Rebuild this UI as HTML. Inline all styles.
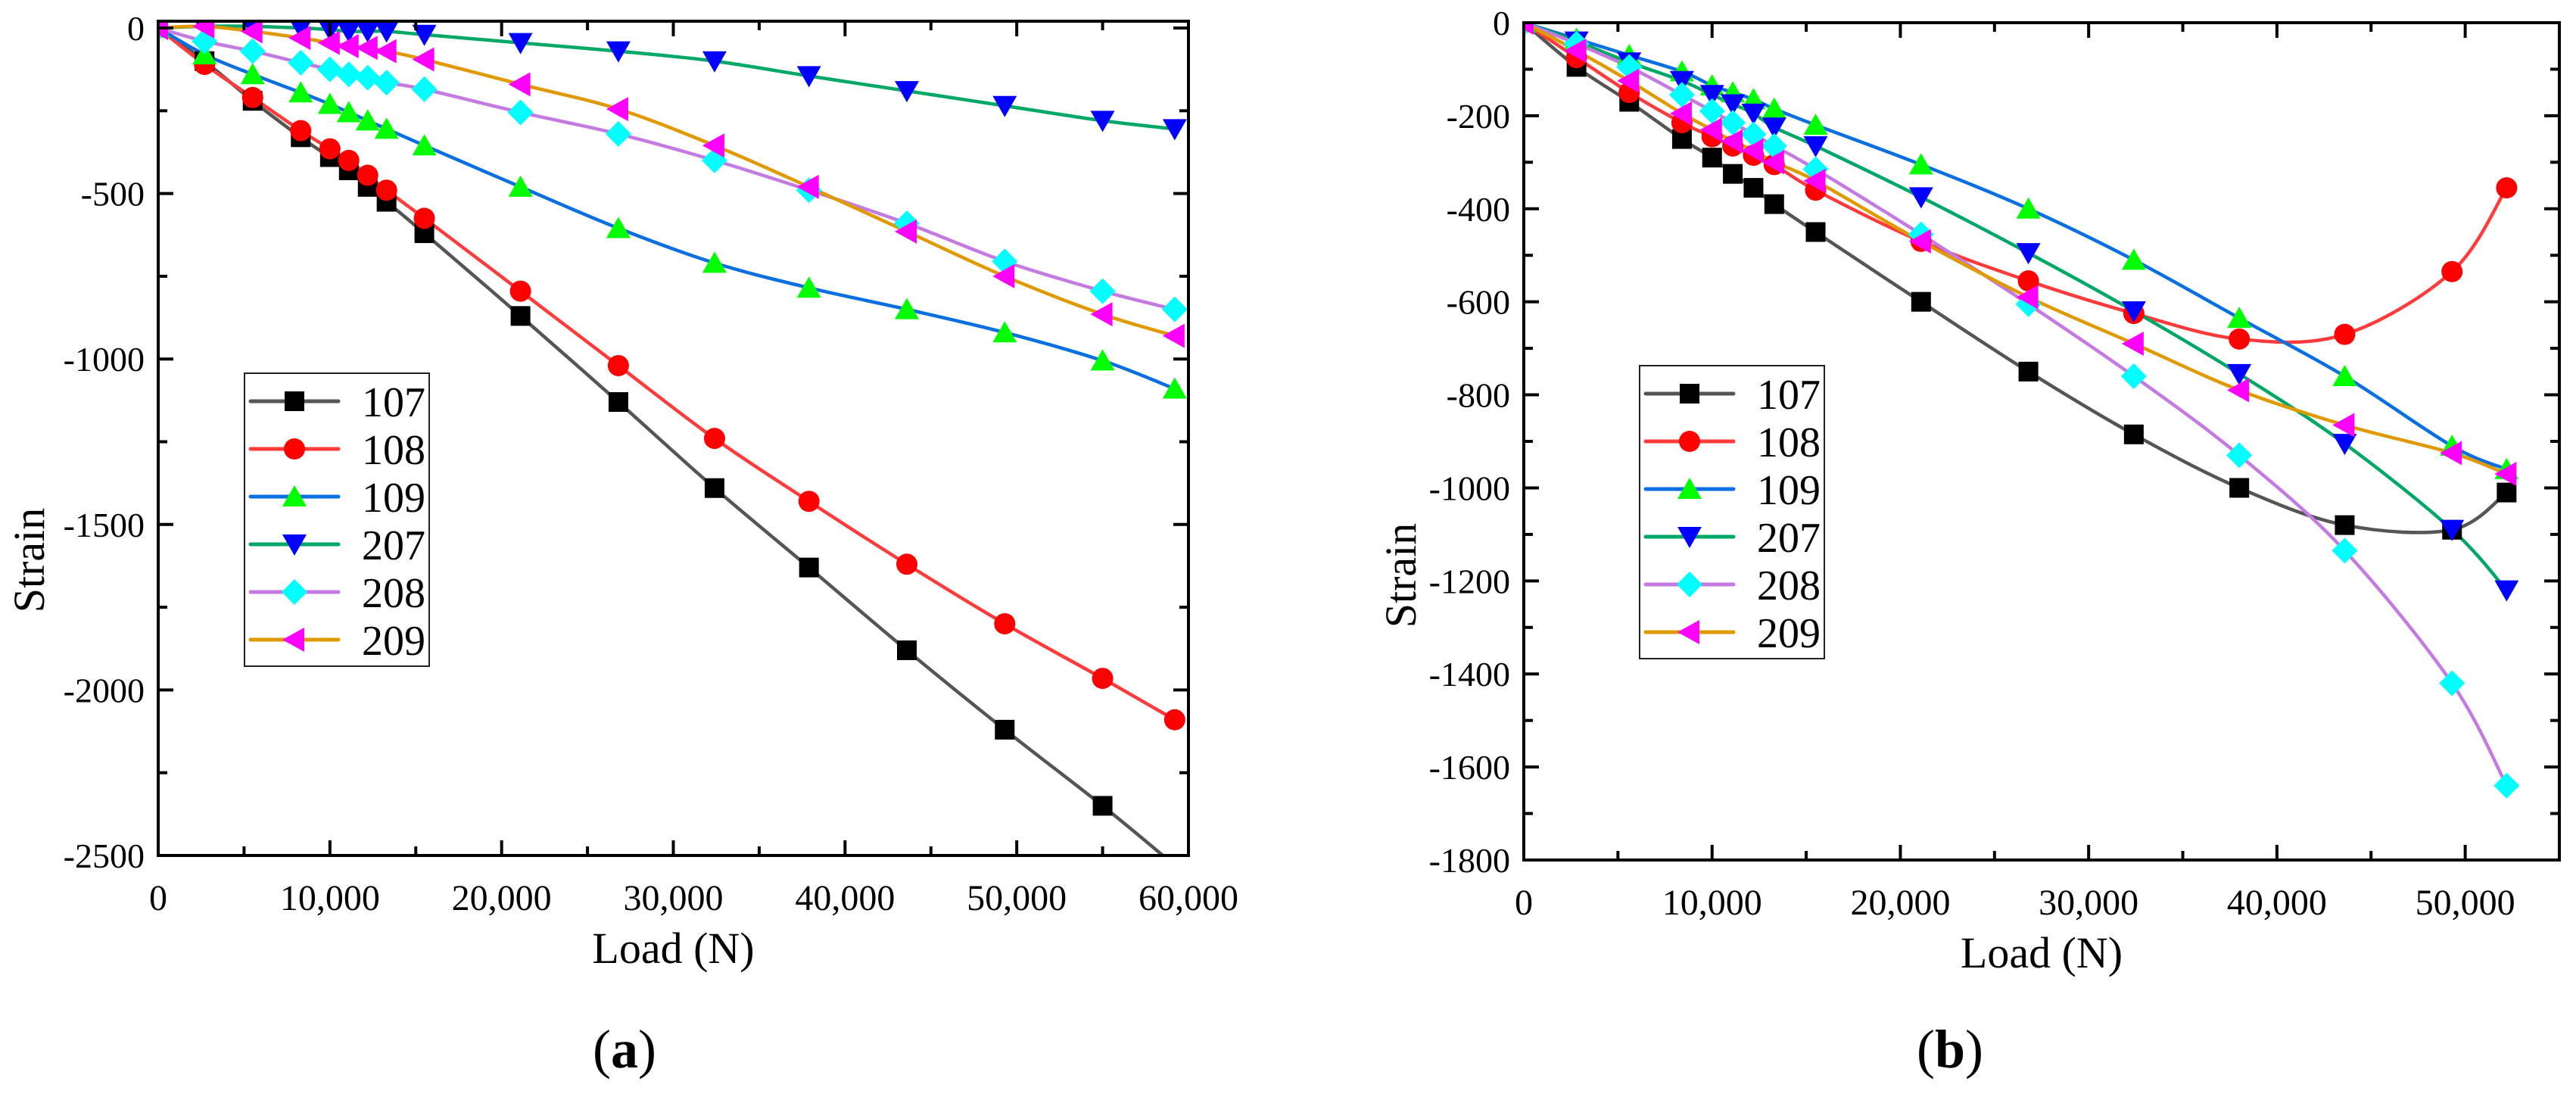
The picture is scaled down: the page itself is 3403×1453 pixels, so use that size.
<!DOCTYPE html>
<html><head><meta charset="utf-8"><style>
body{margin:0;background:#fff;}
svg{display:block;font-family:"Liberation Serif",serif;}
text{font-family:"Liberation Serif",serif;}
</style></head><body>
<svg id="fig" width="3403" height="1453" viewBox="0 0 3403 1453" xmlns="http://www.w3.org/2000/svg" font-family="Liberation Serif, serif"></svg>
<script>
const loadsA = [0,2700,5500,8300,10000,11100,12200,13300,15500,21100,26800,32400,37900,43600,49300,55000,59200];
const seriesNames = ["107","108","109","207","208","209"];
const a107 = [0,-100,-220,-330,-390,-430,-480,-525,-620,-870,-1130,-1390,-1630,-1880,-2120,-2350,-2530];
const a108 = [0,-110,-210,-310,-365,-400,-445,-490,-575,-795,-1020,-1240,-1430,-1620,-1800,-1965,-2090];
const a109 = [0,-80,-140,-195,-230,-255,-280,-305,-355,-480,-605,-710,-785,-850,-920,-1005,-1090];
const a207 = [0,5,5,0,-5,-10,-10,-10,-20,-45,-70,-100,-145,-190,-235,-280,-305];
const a208 = [0,-40,-70,-105,-125,-140,-150,-165,-185,-255,-320,-400,-490,-590,-705,-795,-850];
const a209 = [0,5,-10,-30,-45,-55,-60,-70,-95,-170,-245,-355,-480,-615,-750,-865,-930];
const loadsB = [0,2800,5600,8400,10000,11100,12200,13300,15500,21100,26800,32400,38000,43600,49300,52200];
const b107 = [0,-95,-170,-250,-290,-325,-355,-390,-450,-600,-750,-885,-1000,-1080,-1090,-1010];
const b108 = [0,-75,-150,-215,-245,-265,-285,-305,-360,-470,-555,-625,-680,-670,-535,-355];
const b109 = [0,-35,-70,-105,-135,-150,-165,-185,-220,-305,-400,-510,-635,-760,-910,-960];
const b207 = [0,-40,-85,-125,-155,-175,-195,-225,-265,-375,-495,-620,-755,-905,-1090,-1220];
const b208 = [0,-45,-95,-155,-190,-215,-240,-265,-315,-455,-605,-760,-930,-1135,-1420,-1640];
const b209 = [0,-60,-125,-195,-230,-255,-275,-300,-340,-470,-590,-690,-790,-865,-925,-970];
const xTicksA = [0,10000,20000,30000,40000,50000,60000];
const yTicksA = [0,-500,-1000,-1500,-2000,-2500];
const xTicksB = [0,10000,20000,30000,40000,50000];
const yTicksB = [0,-200,-400,-600,-800,-1000,-1200,-1400,-1600,-1800];

const lineCols=["#555555","#ff3b3b","#0a6fe0","#00a868","#c47ae0","#e09a00"];
const markCols=["#000000","#ff0000","#00ff00","#0000ff","#00ffff","#ff00ff"];
const shapes=["square","circle","up","down","diamond","left"];
const NS="http://www.w3.org/2000/svg";
const FF="Liberation Serif, serif";
const svg=document.getElementById("fig");
function el(tag,attrs,parent){const e=document.createElementNS(NS,tag);for(const k in attrs)e.setAttribute(k,attrs[k]);if(tag==="text")e.setAttribute("font-family",FF);(parent||svg).appendChild(e);return e;}
function fmt(v){return v===0?"0":v.toLocaleString("en-US");}
function spline(pts){let d="M"+pts[0][0]+","+pts[0][1];for(let i=0;i<pts.length-1;i++){const p0=pts[Math.max(i-1,0)],p1=pts[i],p2=pts[i+1],p3=pts[Math.min(i+2,pts.length-1)];const c1x=p1[0]+(p2[0]-p0[0])/6,c1y=p1[1]+(p2[1]-p0[1])/6,c2x=p2[0]-(p3[0]-p1[0])/6,c2y=p2[1]-(p3[1]-p1[1])/6;d+=" C"+c1x+","+c1y+" "+c2x+","+c2y+" "+p2[0]+","+p2[1];}return d;}
function marker(g,shape,cx,cy,col){const s=13;let m;
 if(shape==="square")m=el("rect",{x:cx-s,y:cy-s,width:2*s,height:2*s,fill:col},g);
 else if(shape==="circle")m=el("circle",{cx:cx,cy:cy,r:s+1,fill:col},g);
 else{let p;if(shape==="up")p=[[cx,cy-s-2],[cx+s+3,cy+s],[cx-s-3,cy+s]];
 else if(shape==="down")p=[[cx,cy+s+2],[cx+s+3,cy-s],[cx-s-3,cy-s]];
 else if(shape==="diamond")p=[[cx,cy-s-4],[cx+s+4,cy],[cx,cy+s+4],[cx-s-4,cy]];
 else p=[[cx-s-3,cy],[cx+s,cy-s-3],[cx+s,cy+s+3]];
 m=el("polygon",{points:p.map(q=>q.join(",")).join(" "),fill:col},g);}
 return m;}

function chart(id,cfg){
 const g=el("g",{});
 
 
 const X=v=>cfg.x0+(v-0)/cfg.xmax*(cfg.x1-cfg.x0);
 const Y=v=>cfg.y0+(v/cfg.ymin)*(cfg.y1-cfg.y0);
 const clip=el("clipPath",{id:id+"-clip"},g);
 el("rect",{x:cfg.x0,y:cfg.top,width:cfg.x1-cfg.x0,height:cfg.y1-cfg.top},clip);
 const plot=el("g",{"clip-path":"url(#"+id+"-clip)"},g);
 cfg.series.forEach((vals,i)=>{
  const pts=vals.map((v,j)=>[X(cfg.loads[j]),Y(v)]);
  const path=el("path",{d:spline(pts),fill:"none",stroke:lineCols[i],"stroke-width":4.5},plot);
  
  
 });
 cfg.series.forEach((vals,i)=>{
  vals.forEach((v,j)=>{const m=marker(plot,shapes[i],X(cfg.loads[j]),Y(v),markCols[i]);
   
   });
 });
 const frame=el("rect",{x:cfg.x0,y:cfg.top,width:cfg.x1-cfg.x0,height:cfg.y1-cfg.top,fill:"none",stroke:"#000","stroke-width":4},g);
 
 
 for(let v=0;v<=cfg.xmax+1;v+=cfg.xminor){const x=X(v);const major=v%cfg.xmajor===0;const L=major?20:12;
  el("line",{x1:x,y1:cfg.y1,x2:x,y2:cfg.y1-L,stroke:"#000","stroke-width":4},g);
  el("line",{x1:x,y1:cfg.top,x2:x,y2:cfg.top+L,stroke:"#000","stroke-width":4},g);}
 cfg.xticks.forEach(v=>{const t=el("text",{x:X(v),y:cfg.y1+72,"font-size":48,"text-anchor":"middle"},g);t.textContent=fmt(v);
  
  });
 for(let v=0;v>=cfg.ymin-1;v-=cfg.yminor){const y=Y(v);const major=Math.abs(v)%cfg.ymajor===0;const L=major?20:12;
  el("line",{x1:cfg.x0,y1:y,x2:cfg.x0+L,y2:y,stroke:"#000","stroke-width":4},g);
  el("line",{x1:cfg.x1,y1:y,x2:cfg.x1-L,y2:y,stroke:"#000","stroke-width":4},g);}
 cfg.yticks.forEach(v=>{const t=el("text",{x:cfg.x0-18,y:Y(v)+16,"font-size":46,"text-anchor":"end"},g);t.textContent=String(v);
  
  });
 const xt=el("text",{x:(cfg.x0+cfg.x1)/2,y:cfg.y1+142,"font-size":58,"text-anchor":"middle"},g);xt.textContent="Load (N)";
 
 
 const yt=el("text",{x:0,y:0,"font-size":58,"text-anchor":"middle",transform:"translate("+cfg.ytx+","+cfg.yty+") rotate(-90)"},g);yt.textContent="Strain";
 
 
 const lg=el("g",{},g);
 
 
 el("rect",{x:cfg.lx,y:cfg.ly,width:244,height:387,fill:"#fff",stroke:"#222","stroke-width":2},lg);
 seriesNames.forEach((n,i)=>{const yy=cfg.ly+37+i*63;
  const e=el("g",{},lg);
  
  
  el("line",{x1:cfg.lx+8,y1:yy,x2:cfg.lx+124,y2:yy,stroke:lineCols[i],"stroke-width":5,"stroke-linecap":"round"},e);
  marker(e,shapes[i],cfg.lx+66,yy,markCols[i]);
  const t=el("text",{x:cfg.lx+155,y:yy+20,"font-size":56},e);t.textContent=n;});
 const pl=el("text",{x:cfg.plx,y:1410,"font-size":72,"text-anchor":"middle"},g);
 
 
 const t1=el("tspan",{},pl);t1.textContent="(";
 const t2=el("tspan",{"font-weight":"bold"},pl);t2.textContent=cfg.letter;
 const t3=el("tspan",{},pl);t3.textContent=")";
}
chart("chart-a",{x0:209,x1:1570,xmax:60000,top:28,y0:37,y1:1130,ymin:-2500,loads:loadsA,
 series:[a107,a108,a109,a207,a208,a209],xticks:xTicksA,yticks:yTicksA,xmajor:10000,xminor:5000,ymajor:500,yminor:250,
 ytx:58,yty:740,lx:323,ly:493,plx:825,letter:"a"});
chart("chart-b",{x0:2013,x1:3381,xmax:55000,top:30,y0:30,y1:1136,ymin:-1800,loads:loadsB,
 series:[b107,b108,b109,b207,b208,b209],xticks:xTicksB,yticks:yTicksB,xmajor:10000,xminor:5000,ymajor:200,yminor:100,
 ytx:1870,yty:760,lx:2166,ly:483,plx:2576,letter:"b"});
</script>
</body></html>
